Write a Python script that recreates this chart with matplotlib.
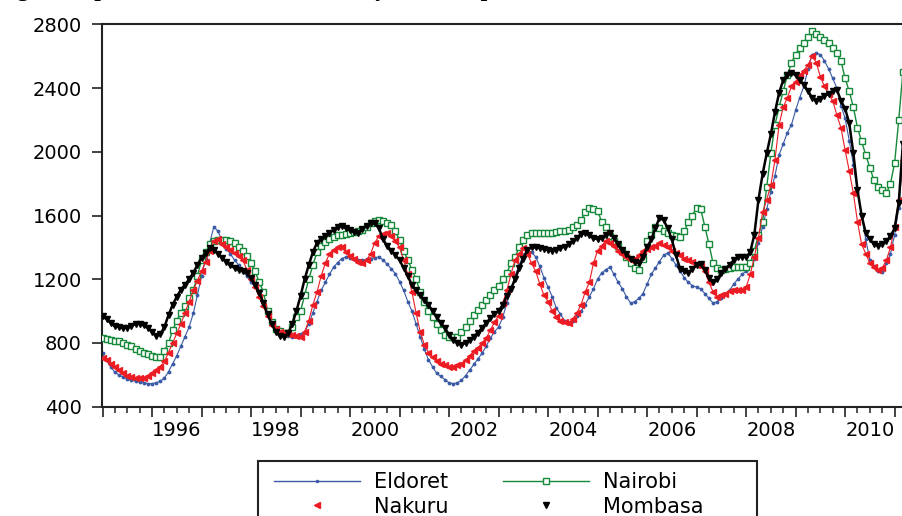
import numpy as np
import pandas as pd
import matplotlib
matplotlib.use("Agg")
import matplotlib.pyplot as plt
from matplotlib.lines import Line2D
from matplotlib.patches import Rectangle

# monthly maize prices, Jan 1995 - Mar 2011
eldoret = [
    735, 690, 650, 615, 600, 585, 575, 565, 560, 555, 550, 545,
    545, 550, 560, 580, 620, 670, 720, 780, 840, 900, 985, 1100,
    1220, 1330, 1430, 1530, 1500, 1440, 1390, 1360, 1320, 1290, 1250, 1220,
    1180, 1150, 1110, 1050, 990, 940, 890, 870, 855, 845, 840, 845,
    855, 870, 920, 990, 1060, 1130, 1180, 1230, 1275, 1305, 1330, 1340,
    1335, 1330, 1320, 1320, 1325, 1330, 1335, 1340, 1320, 1295, 1265, 1235,
    1185, 1130, 1060, 1000, 920, 840, 760, 695, 650, 610, 590, 570,
    550, 545, 550, 565, 595, 630, 665, 700, 735, 780, 830, 870,
    900, 960, 1050, 1130, 1220, 1290, 1350, 1380, 1370, 1340, 1280, 1210,
    1150, 1090, 1020, 980, 940, 925, 935, 970, 1000, 1040, 1090, 1140,
    1200, 1240, 1260, 1275, 1230, 1180, 1140, 1090, 1050, 1060, 1080, 1110,
    1170, 1230, 1270, 1310, 1350, 1365, 1330, 1290, 1250, 1210, 1180, 1160,
    1150, 1140, 1110, 1080, 1050, 1060, 1080, 1110, 1130, 1170, 1200, 1230,
    1250, 1290, 1330, 1430, 1530, 1640, 1750, 1850, 1980, 2050, 2120, 2170,
    2260, 2340, 2410, 2520, 2610, 2620, 2610, 2570, 2520, 2460, 2400, 2290,
    2210, 2070, 1920, 1750, 1600, 1450, 1320, 1280, 1250, 1245, 1300, 1360,
    1480, 1650, 1950,
]
nairobi = [
    830, 825, 820, 815, 810, 800, 790, 780, 765, 750, 740, 730,
    720, 710, 715, 750, 800, 880, 940, 990, 1030, 1080, 1130, 1220,
    1320, 1370, 1420, 1440, 1445, 1445, 1445, 1440, 1425, 1405, 1380, 1345,
    1300, 1250, 1180, 1120, 1000, 930, 890, 875, 865, 860, 900, 960,
    1000, 1100, 1200, 1290, 1370, 1410, 1435, 1455, 1465, 1475, 1480, 1485,
    1490, 1495, 1500, 1510, 1530, 1550, 1565, 1570, 1565, 1555, 1540, 1500,
    1445, 1380, 1320, 1260, 1200, 1120, 1060, 1000, 960, 920, 880, 850,
    840, 835, 840, 870, 900, 940, 975, 1005, 1040, 1070, 1100, 1130,
    1160, 1200, 1240, 1300, 1340, 1400, 1445, 1480, 1490, 1490, 1490, 1490,
    1490, 1490, 1495, 1500, 1505, 1510, 1525, 1540, 1570, 1620, 1650, 1640,
    1630, 1560, 1530, 1470, 1440, 1410, 1380, 1340, 1300, 1270, 1260, 1330,
    1440, 1480, 1530, 1520, 1500, 1490, 1480, 1470, 1465, 1500, 1560, 1600,
    1650, 1640, 1530, 1420, 1300, 1270, 1260, 1265, 1270, 1275, 1275, 1275,
    1275, 1300, 1380, 1480, 1560, 1780, 1990, 2170, 2280, 2380, 2480, 2560,
    2610, 2650, 2680, 2720, 2760, 2740, 2720, 2700, 2680, 2650, 2620, 2570,
    2460, 2380, 2280, 2150, 2065, 1980, 1900, 1820, 1780, 1760, 1740, 1800,
    1930, 2200, 2500,
]
nakuru = [
    705, 690, 670, 650, 630, 610, 595, 588, 583, 580, 580, 590,
    610, 630, 650, 685, 740, 800, 860, 920, 990, 1060, 1130, 1190,
    1250, 1310, 1380, 1440, 1450, 1420, 1400, 1385, 1365, 1345, 1320, 1260,
    1200, 1150, 1090, 1030, 970, 910, 885, 870, 862, 858, 850, 845,
    840, 870, 940, 1040, 1120, 1220, 1300, 1360, 1385, 1400, 1400, 1370,
    1345, 1330, 1310, 1300, 1320, 1360, 1430, 1470, 1485, 1490, 1470, 1440,
    1400, 1320, 1230, 1120, 990, 870, 790, 740, 710, 685, 670, 660,
    650, 650, 660, 670, 690, 720, 750, 770, 800, 830, 880, 930,
    970, 1050, 1130, 1230, 1320, 1360, 1395, 1360, 1300, 1250, 1170, 1100,
    1060, 1000, 960, 940, 930, 925, 950, 990, 1040, 1120, 1180, 1300,
    1380, 1410, 1440, 1430, 1410, 1380, 1360, 1340, 1320, 1330, 1350, 1380,
    1390, 1400, 1410, 1425, 1415, 1400, 1380, 1365, 1350, 1330, 1320, 1310,
    1290, 1280, 1250, 1180, 1120, 1090, 1100, 1110, 1125, 1130, 1130, 1130,
    1150, 1230, 1340, 1460, 1620, 1700, 1790, 1950, 2170, 2280, 2340, 2410,
    2440, 2480, 2510, 2545, 2600, 2560, 2470, 2410, 2360, 2320, 2230, 2150,
    2010, 1880, 1740, 1560, 1420, 1360, 1300, 1275, 1260, 1270, 1320, 1400,
    1530, 1700, 1950,
]
mombasa = [
    970, 950, 925, 905, 900, 895, 895, 905, 920, 920, 910, 895,
    870, 845, 855, 900, 975, 1040, 1090, 1135, 1165, 1200, 1240, 1290,
    1335, 1365, 1395, 1385, 1360, 1335, 1310, 1290, 1270, 1260, 1250, 1240,
    1210, 1165, 1115, 1050, 980, 920, 870, 845, 840, 860, 920, 1000,
    1095, 1200, 1290, 1370, 1430, 1455, 1470, 1490, 1510, 1530, 1535, 1520,
    1510, 1495, 1490, 1515, 1535, 1550, 1550, 1520, 1450, 1410, 1380, 1350,
    1320, 1270, 1220, 1165, 1130, 1100, 1070, 1040, 1000, 960, 925, 895,
    850, 820, 800, 790, 800, 820, 840, 865, 895, 925, 955, 980,
    1000, 1040, 1095, 1140, 1200, 1270, 1330, 1385, 1400, 1400, 1395, 1390,
    1385, 1380, 1385, 1395, 1405, 1420, 1440, 1460, 1485, 1490, 1475, 1460,
    1450, 1460, 1475, 1490, 1460, 1420, 1385, 1360, 1330, 1310, 1300, 1340,
    1400, 1450, 1520, 1585, 1570, 1520, 1450, 1350, 1265, 1250, 1240, 1265,
    1290, 1295, 1260, 1210, 1180, 1200, 1240, 1265, 1290, 1320, 1340, 1340,
    1340, 1370, 1480, 1700, 1860, 1990, 2110, 2250, 2370, 2450, 2480, 2495,
    2480, 2450, 2420, 2380, 2340, 2320, 2330, 2350, 2365, 2380, 2390, 2320,
    2270, 2180, 1990, 1760, 1600, 1490, 1450, 1420, 1410, 1420, 1440, 1470,
    1520, 1680, 2050,
]

label_years = [1996, 1998, 2000, 2002, 2004, 2006, 2008, 2010]
y_ticks = [400, 800, 1200, 1600, 2000, 2400, 2800]

months = pd.date_range("1995-01-01", periods=len(eldoret), freq="MS")
t = months.year + (months.month - 1) / 12.0

W, H = 903, 516
fig = plt.figure(figsize=(W / 100, H / 100), dpi=100)
x0, x1 = 102.5, 907.0
ytop, ybot = 24.3, 406.7
ax = fig.add_axes([x0 / W, 1 - ybot / H, (x1 - x0) / W, (ybot - ytop) / H])

blue = "#3b5aa6"
green = "#16893a"
red = "#ec1c24"

ax.plot(t, eldoret, color=blue, lw=0.8, marker=".", ms=3.5, zorder=2)
ax.plot(t, nairobi, color=green, lw=1.0, marker="s", ms=5, mfc="white",
        mec=green, mew=1.0, zorder=3)
ax.plot(t, nakuru, color=red, lw=0.8, marker="<", ms=4.5, mec=red, zorder=4)
ax.plot(t, mombasa, color="black", lw=1.8, marker="v", ms=5, zorder=5)

ax.set_xlim(1995.0, 2011.25)
ax.set_ylim(400, 2800)
ax.set_yticks(y_ticks)
ax.set_yticklabels([str(v) for v in y_ticks])

ax.set_xticks(np.arange(1995, 2012))
ax.set_xticklabels([])
ax.set_xticks(np.arange(1995, 2011.3, 0.25), minor=True)
ax.tick_params(axis="x", which="major", direction="out", length=7, width=1.2, color="#222")
ax.tick_params(axis="x", which="minor", direction="out", length=4, width=1.1, color="#222")
ax.tick_params(axis="y", direction="out", length=7, width=1.2, color="#222",
               pad=8, labelsize=14)

sec = ax.secondary_xaxis("bottom")
sec.set_xticks([y + 0.5 for y in label_years])
sec.set_xticklabels([str(y) for y in label_years])
sec.tick_params(length=0, pad=10, labelsize=14)
sec.spines["bottom"].set_visible(False)

for side in ["left", "top", "bottom", "right"]:
    ax.spines[side].set_color("#222")
    ax.spines[side].set_linewidth(1.5)

# clipped caption above the plot
fig.text(-0.004, 1 + 4.0 / H, "Figure 1: price movements of maize by market: period from 1995 \u2013 2010",
         fontfamily="Liberation Serif", fontweight="bold", fontsize=17, va="baseline", ha="left")

handles = [
    Line2D([], [], color=blue, lw=1.0, marker=".", ms=3),
    Line2D([], [], color=red, lw=0, marker="<", ms=4),
    Line2D([], [], color=green, lw=1.0, marker="s", ms=4, mfc="white", mec=green),
    Line2D([], [], color="black", lw=0, marker="v", ms=5),
]
labels = ["Eldoret", "Nakuru", "Nairobi", "Mombasa"]
fig.legend(handles, labels, ncol=2, loc="upper left",
           bbox_to_anchor=(264 / W, 1 - 462 / H), frameon=False,
           fontsize=15, handlelength=4.1, handletextpad=0.7,
           columnspacing=2.6, labelspacing=0.2, numpoints=1, borderpad=0.0)
fig.patches.append(Rectangle((258 / W, -0.05), (757 - 258) / W, 0.05 + (H - 461) / H,
                             transform=fig.transFigure, fill=False,
                             edgecolor="#222", lw=1.5))

fig.savefig("out.png", dpi=100)
